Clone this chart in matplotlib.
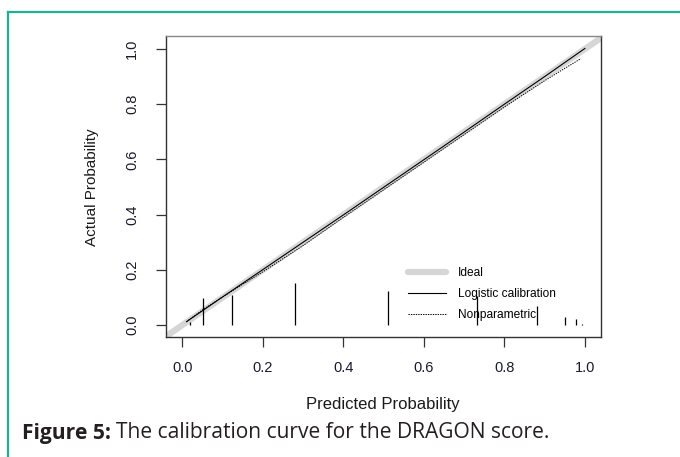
import matplotlib.pyplot as plt
from matplotlib.lines import Line2D

# calibration curves
logistic_x = [0.01, 0.1, 0.2, 0.3, 0.4, 0.5, 0.6, 0.7, 0.8, 0.9, 1.0]
logistic_y = [0.012, 0.102, 0.201, 0.300, 0.399, 0.499, 0.599, 0.699, 0.800, 0.900, 1.002]

nonpar_x = [0.01, 0.05, 0.1, 0.15, 0.2, 0.3, 0.4, 0.5, 0.6, 0.7, 0.8, 0.9, 0.95, 0.99]
nonpar_y = [0.012, 0.055, 0.102, 0.148, 0.193, 0.288, 0.39, 0.49, 0.59, 0.69, 0.79, 0.885, 0.93, 0.965]

# spike histogram of predicted probabilities
spike_x = [0.019, 0.05, 0.122, 0.28, 0.51, 0.731, 0.88, 0.95, 0.979, 0.993]
spike_h = [0.011, 0.097, 0.109, 0.152, 0.122, 0.106, 0.068, 0.028, 0.022, 0.005]

ticks = [0.0, 0.2, 0.4, 0.6, 0.8, 1.0]
tick_labels = ["0.0", "0.2", "0.4", "0.6", "0.8", "1.0"]

fig = plt.figure(figsize=(6.8, 4.57), dpi=100)
ax = fig.add_axes([166 / 680, 1 - 337 / 457, 435 / 680, 301 / 457])
ax.set_xlim(-0.041, 1.04)
ax.set_ylim(-0.0435, 1.047)

rfont = "Liberation Sans"

# ideal line
ax.plot([-0.1, 1.1], [-0.1, 1.1], color="#d6d6d6", lw=4.5, solid_capstyle="butt")
ax.plot(logistic_x, logistic_y, color="black", lw=0.8)
ax.plot(nonpar_x, nonpar_y, color="black", lw=0.7, dashes=(1.4, 1.1))
ax.vlines(spike_x, 0, spike_h, color="black", lw=0.9)

# legend (drawn like R's legend without box)
leg_items = [("Ideal", dict(color="#d6d6d6", lw=4.5, solid_capstyle="round")),
             ("Logistic calibration", dict(color="black", lw=0.8)),
             ("Nonparametric", dict(color="black", lw=0.7, dashes=(1.4, 1.1)))]
handles = [Line2D([], [], **kw) for _, kw in leg_items]
ax.legend(handles, [t for t, _ in leg_items], loc="lower left",
          bbox_to_anchor=(0.532, 0.017), frameon=False, handlelength=3.2,
          handletextpad=1.0, labelspacing=0.75,
          prop={"family": rfont, "size": 8.6})

for side, sp in ax.spines.items():
    sp.set_linewidth(1.0)
    sp.set_color("#888888" if side == "top" else "#333333")

ax.set_xticks(ticks)
ax.set_xticklabels(tick_labels, family=rfont, fontsize=10.5, color="#1a1a2e")
ax.set_yticks(ticks)
ax.set_yticklabels(tick_labels, family=rfont, fontsize=10.5, color="#1a1a2e",
                   rotation=90, va="center")
ax.tick_params(axis="x", length=7.2, width=0.9, pad=10, color="#333333")
ax.tick_params(axis="y", length=7.2, width=0.9, pad=12, color="#333333")

fig.text(383 / 680, 1 - 404 / 457, "Predicted Probability", family=rfont,
         fontsize=12, ha="center", va="center", color="#1a1a1a")
fig.text(92 / 680, 1 - 187 / 457, "Actual Probability", family=rfont,
         fontsize=11, ha="center", va="center", rotation=90, color="#1a1a1a")

# caption
cap_y = 1 - 433 / 457
t1 = fig.text(22 / 680, cap_y, "Figure 5:", family="Open Sans", weight="bold",
              fontsize=15.1, ha="left", va="center", color="#231f20")
fig.canvas.draw()
bb = t1.get_window_extent()
fig.text((bb.x1 + 5) / 680, cap_y, "The calibration curve for the DRAGON score.",
         family="Open Sans", fontsize=15.1, ha="left", va="center", color="#231f20")

# teal frame on left and top
teal = "#1bb396"
fig.add_artist(Line2D([7.5 / 680, 7.5 / 680], [0, 1 - 11.5 / 457], color=teal, lw=1.6,
                      transform=fig.transFigure))
fig.add_artist(Line2D([7.5 / 680, 1], [1 - 11.5 / 457, 1 - 11.5 / 457], color=teal, lw=1.6,
                      transform=fig.transFigure))

fig.savefig("out.png", dpi=100)
